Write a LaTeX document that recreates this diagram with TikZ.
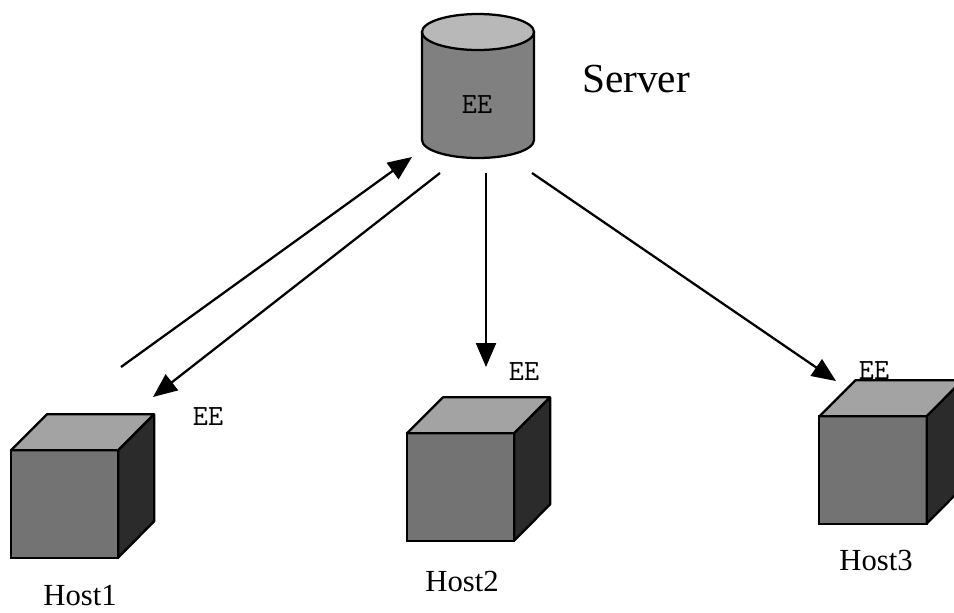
\documentclass[tikz,border=0pt]{standalone}
\usepackage{fontspec}
\setmainfont{Liberation Serif}
\usetikzlibrary{arrows.meta}
\definecolor{canTop}{gray}{0.72}
\definecolor{canBody}{gray}{0.50}
\definecolor{cubeTop}{gray}{0.64}
\definecolor{cubeFront}{gray}{0.45}
\definecolor{cubeSide}{gray}{0.17}
\tikzset{
    cubeface/.style={draw, line width=1.7pt, fill=cubeFront, minimum size=80.5pt, inner sep=0pt, outer sep=0pt},
    serverbox/.style={minimum width=84pt, minimum height=81pt, inner sep=0pt, outer sep=0pt},
    serverwall/.style={line width=1.7pt, fill=canBody},
    serverlid/.style={line width=1.7pt, fill=canTop},
    hostlabel/.style={font=\fontsize{23}{26}\selectfont, inner sep=0pt},
    eelabel/.style={font=\fontsize{22}{24}\selectfont\ttfamily, inner sep=0pt},
    link/.style={line width=1.7pt, -{Triangle[length=18pt,width=15pt]}}
}
\begin{document}
\begin{tikzpicture}[x=0.75pt, y=-0.75pt]
    \useasboundingbox (0,0) rectangle (954,612);

    % Server
    \node[serverbox] (server) at (478,86) {};
    \draw[serverwall] (server.north west) -- (server.south west)
        arc[start angle=180, end angle=0, x radius=56, y radius=18] -- (server.north east) -- cycle;
    \draw[serverlid] (server.north) ellipse [x radius=56, y radius=18];
    \node[eelabel] (servertag) at (477,105) {EE};
    \node[hostlabel, font=\fontsize{31}{34}\selectfont] (servername) at (636,79) {Server};

    % Hosts with their labels
    \foreach \name/\x/\y/\label/\lx/\ly/\tx/\ty in {
        host1/64.5/504/Host1/80/596/208/417,
        host2/460.5/487/Host2/462/581/524/372,
        host3/873/470/Host3/876/560/874/371
    } {
        \node[cubeface] (\name) at (\x,\y) {};
        \draw[line width=1.7pt, line join=round, fill=cubeTop]
            (\name.north west) -- ++(36,-36) -- ++(107,0) -- (\name.north east) -- cycle;
        \draw[line width=1.7pt, line join=round, fill=cubeSide]
            (\name.north east) -- ++(36,-36) -- ++(0,107) -- (\name.south east) -- cycle;
        \node[hostlabel] (\name name) at (\lx,\ly) {\label};
        \node[eelabel] (\name tag) at (\tx,\ty) {EE};
    }

    % Free ends of the arrows
    \coordinate (upstart) at (121,367);
    \coordinate (upend) at (412,157);
    \coordinate (downstart) at (440,173);
    \coordinate (downend) at (153,397);
    \coordinate (midstart) at (486,173);
    \coordinate (midend) at (486,367);
    \coordinate (rightstart) at (532,173);
    \coordinate (rightend) at (836,381);

    \draw[link] (upstart) -- (upend);
    \draw[link] (downstart) -- (downend);
    \draw[link] (midstart) -- (midend);
    \draw[link] (rightstart) -- (rightend);
\end{tikzpicture}
\end{document}
